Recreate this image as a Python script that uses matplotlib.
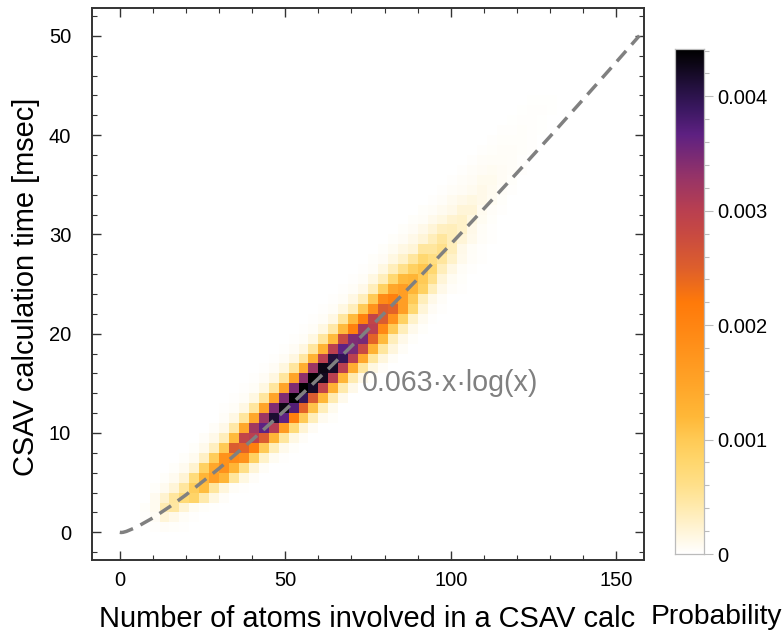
"""Probability heatmap of CSAV calculation time against number of atoms."""

from __future__ import annotations

import matplotlib

matplotlib.use("Agg")

import matplotlib.pyplot as plt
import numpy as np
from matplotlib.colors import LinearSegmentedColormap
from matplotlib.ticker import FixedLocator

FIG_W, FIG_H = 783, 634
FONT = "Liberation Sans"
GRAY = "#808080"
FRAME = "#333333"
BAR_EDGE = "#BBBBBB"

X_BIN = 3
Y_BIN = 1
N_COLS = 53
N_ROWS = 53
VALUE_UNIT = 1e-5
VMAX = 0.004414

# each row is one y bin: first occupied x-bin index, then values in VALUE_UNIT
ROW_START = [
    3, 2, 2, 3, 3, 4, 5, 6, 7, 8, 9, 10, 10, 11, 12, 13, 14, 15, 16, 17, 18, 19,
    20, 21, 22, 23, 24, 25, 26, 27, 28, 29, 30, 31, 32, 33, 34, 35, 36, 37, 38, 39, 40, 41,
]
ROW_VALUES = [
    [2, 4, 3, 2],
    [2, 6, 20, 12, 5, 2],
    [3, 8, 40, 48, 22, 7, 3, 1],
    [8, 25, 50, 75, 85, 42, 15, 4],
    [3, 8, 20, 50, 95, 115, 50, 18, 5, 2],
    [3, 8, 22, 70, 125, 160, 125, 50, 15, 4],
    [3, 8, 25, 90, 145, 180, 125, 62, 20, 5],
    [3, 8, 30, 95, 180, 190, 180, 90, 27, 7, 2],
    [3, 10, 32, 100, 255, 245, 210, 100, 35, 10, 3],
    [4, 12, 35, 118, 290, 300, 255, 125, 50, 14, 4],
    [4, 12, 45, 145, 320, 367, 305, 165, 72, 22, 6],
    [4, 14, 50, 145, 325, 415, 367, 210, 100, 35, 8, 3],
    [2, 5, 14, 50, 150, 345, 430, 375, 245, 108, 35, 9],
    [2, 5, 15, 50, 150, 345, 440, 395, 255, 122, 40, 10],
    [2, 5, 15, 50, 150, 345, 440, 420, 290, 130, 42, 12],
    [2, 6, 16, 50, 150, 335, 440, 425, 300, 125, 40, 12, 3],
    [2, 6, 17, 50, 135, 325, 430, 420, 300, 135, 50, 15, 4],
    [2, 6, 16, 48, 130, 300, 410, 395, 300, 145, 50, 18, 5],
    [2, 6, 16, 50, 130, 300, 367, 350, 280, 130, 50, 18, 5],
    [2, 5, 15, 50, 118, 280, 345, 350, 245, 118, 35, 12, 3],
    [2, 5, 15, 45, 118, 210, 320, 300, 195, 100, 35, 10, 3],
    [2, 5, 14, 50, 118, 210, 290, 255, 180, 90, 27, 8, 2],
    [2, 5, 15, 35, 100, 180, 255, 245, 160, 78, 20, 6, 2],
    [2, 5, 14, 35, 100, 190, 210, 160, 100, 35, 12, 4],
    [2, 5, 12, 35, 90, 145, 160, 125, 90, 35, 12, 4, 2],
    [2, 5, 15, 35, 78, 118, 125, 100, 60, 20, 7, 3],
    [2, 5, 15, 35, 60, 90, 105, 78, 35, 14, 5, 2],
    [3, 6, 15, 27, 50, 78, 65, 50, 27, 10, 4, 2],
    [3, 7, 14, 20, 50, 50, 60, 35, 12, 5, 2],
    [3, 6, 12, 20, 35, 50, 35, 20, 10, 4, 2],
    [3, 6, 12, 20, 32, 35, 27, 12, 5, 2],
    [3, 5, 10, 15, 24, 27, 15, 7, 3],
    [3, 5, 8, 12, 20, 20, 8, 4, 2],
    [2, 4, 8, 12, 15, 12, 7, 3],
    [2, 4, 6, 8, 12, 8, 4, 2],
    [2, 4, 6, 9, 9, 6, 3],
    [2, 4, 6, 7, 6, 4, 2],
    [2, 4, 5, 5, 4, 2],
    [2, 3, 4, 4, 3, 2],
    [2, 3, 3, 3, 2],
    [2, 2, 3, 2, 1],
    [1, 2, 2, 1],
    [1, 2, 2, 1],
    [1, 1, 1],
]

# dashed guide, points
CURVE_X = [0, 0.4, 1, 2, 5, 10, 15, 20, 30, 40, 50, 60, 70, 80, 90, 100, 110, 120, 130, 140, 150, 157]
CURVE_Y = [0, -0.02, 0, 0.09, 0.51, 1.45, 2.56, 3.77, 6.43, 9.30, 12.32, 15.48, 18.74, 22.09,
           25.51, 29.01, 32.58, 36.19, 39.86, 43.59, 47.35, 50.01]

X_MAJOR = [0, 50, 100, 150]
X_MINOR = [10, 20, 30, 40, 60, 70, 80, 90, 110, 120, 130, 140]
Y_MAJOR = [0, 10, 20, 30, 40, 50]
Y_MINOR = [-2, 2, 4, 6, 8, 12, 14, 16, 18, 22, 24, 26, 28, 32, 34, 36, 38, 42, 44, 46, 48, 52]

BAR_MAJOR = [0, 0.001, 0.002, 0.003, 0.004]
BAR_LABELS = ["0", "0.001", "0.002", "0.003", "0.004"]
BAR_MINOR = [0.0002, 0.0004, 0.0006, 0.0008, 0.0012, 0.0014, 0.0016, 0.0018, 0.0022, 0.0024,
             0.0026, 0.0028, 0.0032, 0.0034, 0.0036, 0.0038, 0.0042, 0.0044]

CMAP_VALUES = [0, 0.2, 0.4, 0.6, 0.8, 1.0, 1.2, 1.5, 2.0, 2.2, 2.5, 2.8, 3.0, 3.3, 3.67, 3.9, 4.1, 4.3, 4.414]
CMAP_COLORS = ["#FFFFFF", "#FFF5D8", "#FFEBB0", "#FFE08A", "#FFD76E", "#FFCA55", "#FFB838", "#FFA428",
               "#FF8512", "#FF7A0A", "#DE5F2C", "#C84A42", "#BA4050", "#963468", "#5E2182", "#3A1860",
               "#22103C", "#0C0614", "#000000"]


def px_rect(left: float, top: float, right: float, bottom: float) -> list[float]:
    return [left / FIG_W, 1 - bottom / FIG_H, (right - left) / FIG_W, (bottom - top) / FIG_H]


def build_grid() -> np.ndarray:
    grid = np.zeros((N_ROWS, N_COLS))
    for row, (start, values) in enumerate(zip(ROW_START, ROW_VALUES)):
        grid[row, start:start + len(values)] = np.array(values) * VALUE_UNIT
    return grid


def build_cmap() -> LinearSegmentedColormap:
    stops = [value / CMAP_VALUES[-1] for value in CMAP_VALUES]
    return LinearSegmentedColormap.from_list("sunset_r", list(zip(stops, CMAP_COLORS)), N=512)


def draw_main(fig: plt.Figure, cmap: LinearSegmentedColormap) -> None:
    ax = fig.add_axes(px_rect(92, 8, 644, 560))
    x_edges = np.arange(N_COLS + 1) * X_BIN
    y_edges = np.arange(N_ROWS + 1) * Y_BIN
    ax.pcolormesh(x_edges, y_edges, build_grid(), cmap=cmap, vmin=0, vmax=VMAX, linewidth=0)
    ax.plot(CURVE_X, CURVE_Y, color=GRAY, lw=2.5, dashes=(4.0, 2.4), dash_capstyle="butt")
    ax.text(73, 15, "0.063·x·log(x)", color=GRAY, fontsize=20.6, va="center", ha="left")

    ax.set_xlim(-8.4, 158.4)
    ax.set_ylim(-2.79, 52.8)
    ax.set_xticks(X_MAJOR)
    ax.set_yticks(Y_MAJOR)
    ax.xaxis.set_minor_locator(FixedLocator(X_MINOR))
    ax.yaxis.set_minor_locator(FixedLocator(Y_MINOR))
    ax.tick_params(which="major", direction="in", length=6.5, width=1.0, color=FRAME,
                   top=True, right=True, labelsize=14.5)
    ax.tick_params(axis="x", which="major", pad=8)
    ax.tick_params(axis="y", which="major", pad=15)
    ax.tick_params(which="minor", direction="in", length=3.6, width=0.8, color=FRAME, top=True, right=True)
    for spine in ax.spines.values():
        spine.set_linewidth(1.4)
        spine.set_color(FRAME)


def draw_colorbar(fig: plt.Figure, cmap: LinearSegmentedColormap) -> None:
    ax = fig.add_axes(px_rect(675, 49, 704, 554))
    ramp = np.linspace(0, VMAX, 512).reshape(-1, 1)
    ax.imshow(ramp, cmap=cmap, vmin=0, vmax=VMAX, origin="lower", aspect="auto", extent=(0, 1, 0, VMAX))
    ax.set_xticks([])
    ax.set_yticks(BAR_MAJOR, BAR_LABELS)
    ax.yaxis.set_minor_locator(FixedLocator(BAR_MINOR))
    ax.yaxis.tick_right()
    ax.tick_params(axis="y", which="major", length=6.5, width=0.8, color=BAR_EDGE, labelsize=14.5, pad=3)
    ax.tick_params(axis="y", which="minor", length=3.8, width=0.8, color=BAR_EDGE)
    for spine in ax.spines.values():
        spine.set_linewidth(0.9)
        spine.set_color(BAR_EDGE)


def main() -> None:
    plt.rcParams["font.family"] = [FONT, "DejaVu Sans"]
    fig = plt.figure(figsize=(FIG_W / 100, FIG_H / 100), dpi=100, facecolor="white")
    cmap = build_cmap()
    draw_main(fig, cmap)
    draw_colorbar(fig, cmap)

    fig.text(367 / FIG_W, 1 - 619 / FIG_H, "Number of atoms involved in a CSAV calc",
             fontsize=20.9, ha="center", va="center")
    fig.text(26 / FIG_W, 1 - 287 / FIG_H, "CSAV calculation time [msec]",
             fontsize=20.9, rotation=90, ha="center", va="center")
    fig.text(716 / FIG_W, 1 - 617 / FIG_H, "Probability", fontsize=20.3, ha="center", va="center")

    fig.savefig("out.png", dpi=100)
    plt.close(fig)


if __name__ == "__main__":
    main()
